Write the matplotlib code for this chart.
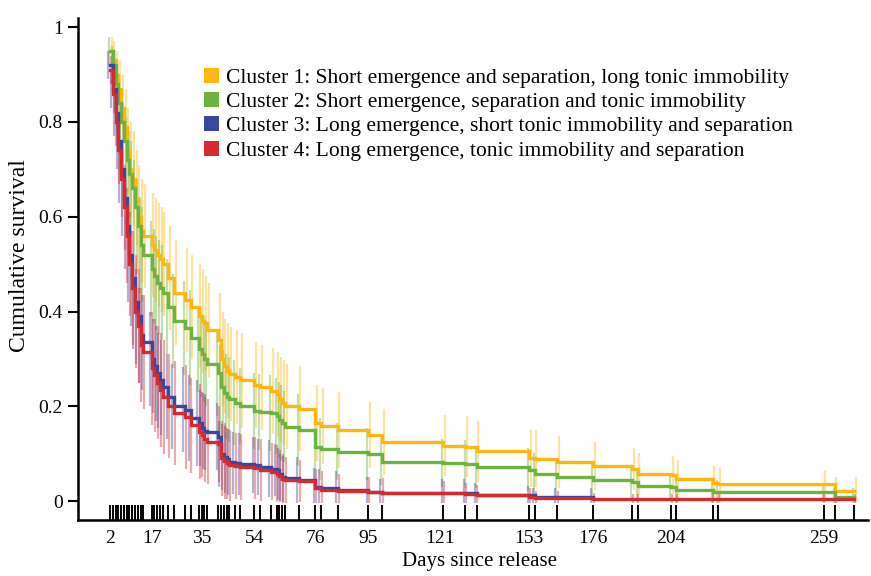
import numpy as np
import matplotlib
matplotlib.use('Agg')
import matplotlib.pyplot as plt
from matplotlib.patches import Patch

# event days (also shown as the rug under the curves)
days = [2, 3, 4, 5, 6, 7, 8, 9, 10, 11, 12, 13, 14,
        17, 18, 19, 20, 21, 23, 25,
        29, 31, 34, 35, 36, 37,
        41, 42, 43, 44, 45, 47, 49,
        54, 56, 60, 62, 63, 64, 65, 70,
        76, 78, 84, 95, 100,
        122, 130, 134, 153, 155, 163, 176,
        190, 192, 204, 206, 219, 221, 259, 263, 270]

tick_days = [2, 17, 35, 54, 76, 95, 121, 153, 176, 204, 259]

labels = ['Cluster 1: Short emergence and separation, long tonic immobility',
          'Cluster 2: Short emergence, separation and tonic immobility',
          'Cluster 3: Long emergence, short tonic immobility and separation',
          'Cluster 4: Long emergence, tonic immobility and separation']
colors = ['#FDB713', '#6DB33F', '#3B479C', '#D42A31']

# cumulative survival, one value per event day
surv1 = [0.95, 0.93, 0.90, 0.87, 0.83, 0.79, 0.74, 0.70, 0.68, 0.64, 0.60, 0.57, 0.56,
         0.54, 0.53, 0.52, 0.51, 0.50, 0.47, 0.44,
         0.425, 0.41, 0.39, 0.38, 0.375, 0.36,
         0.34, 0.30, 0.285, 0.275, 0.268, 0.262, 0.255,
         0.245, 0.24, 0.232, 0.225, 0.215, 0.208, 0.20, 0.195,
         0.165, 0.158, 0.15, 0.14, 0.125,
         0.117, 0.115, 0.105, 0.09, 0.089, 0.083, 0.074,
         0.068, 0.057, 0.055, 0.047, 0.038, 0.036, 0.036, 0.021, 0.021]
surv2 = [0.95, 0.92, 0.88, 0.84, 0.80, 0.76, 0.72, 0.69, 0.66, 0.62, 0.58, 0.54, 0.52,
         0.49, 0.475, 0.46, 0.45, 0.44, 0.41, 0.38,
         0.365, 0.345, 0.32, 0.31, 0.30, 0.29,
         0.27, 0.24, 0.228, 0.22, 0.215, 0.208, 0.20,
         0.19, 0.188, 0.186, 0.18, 0.172, 0.165, 0.157, 0.15,
         0.115, 0.11, 0.104, 0.10, 0.083,
         0.08, 0.078, 0.072, 0.066, 0.057, 0.051, 0.044,
         0.04, 0.032, 0.03, 0.023, 0.019, 0.019, 0.019, 0.008, 0.008]
surv3 = [0.92, 0.87, 0.82, 0.76, 0.70, 0.64, 0.58, 0.52, 0.47, 0.42, 0.39, 0.35, 0.335,
         0.30, 0.285, 0.27, 0.255, 0.24, 0.22, 0.20,
         0.193, 0.175, 0.165, 0.155, 0.148, 0.146,
         0.136, 0.10, 0.093, 0.088, 0.083, 0.08, 0.078,
         0.076, 0.072, 0.068, 0.066, 0.058, 0.05, 0.049, 0.044,
         0.03, 0.027, 0.023, 0.02, 0.017,
         0.017, 0.016, 0.013, 0.012, 0.008, 0.008, 0.008,
         np.nan, np.nan, np.nan, np.nan, np.nan, np.nan, np.nan, np.nan, np.nan]
surv4 = [0.91, 0.86, 0.80, 0.74, 0.68, 0.62, 0.56, 0.50, 0.45, 0.40, 0.37, 0.33, 0.315,
         0.28, 0.265, 0.25, 0.235, 0.22, 0.20, 0.186,
         0.178, 0.16, 0.146, 0.14, 0.13, 0.125,
         0.12, 0.09, 0.085, 0.08, 0.076, 0.074, 0.072,
         0.07, 0.066, 0.062, 0.058, 0.052, 0.046, 0.044, 0.042,
         0.028, 0.024, 0.022, 0.02, 0.018,
         0.017, 0.014, 0.013, 0.008, 0.006, 0.006, 0.005,
         0.004, 0.004, 0.004, 0.004, 0.004, 0.004, 0.004, 0.004, 0.004]

# half length of the confidence bars
ci1 = [0.03, 0.04, 0.05, 0.06, 0.07, 0.08, 0.09, 0.10, 0.10, 0.10, 0.11, 0.11, 0.11,
       0.11, 0.11, 0.11, 0.11, 0.11, 0.11, 0.11,
       0.11, 0.11, 0.11, 0.11, 0.10, 0.10,
       0.10, 0.10, 0.10, 0.10, 0.10, 0.10, 0.10,
       0.09, 0.09, 0.09, 0.09, 0.09, 0.09, 0.09, 0.09,
       0.08, 0.08, 0.08, 0.07, 0.07,
       0.065, 0.065, 0.065, 0.06, 0.06, 0.055, 0.05,
       0.045, 0.045, 0.04, 0.04, 0.035, 0.035, 0.03, 0.03, 0.03]
ci2 = [0.03, 0.04, 0.05, 0.06, 0.07, 0.08, 0.09, 0.09, 0.10, 0.10, 0.10, 0.10, 0.10,
       0.10, 0.10, 0.10, 0.10, 0.10, 0.10, 0.10,
       0.10, 0.10, 0.09, 0.09, 0.09, 0.09,
       0.09, 0.09, 0.09, 0.09, 0.09, 0.09, 0.08,
       0.08, 0.08, 0.08, 0.08, 0.08, 0.08, 0.075, 0.075,
       0.07, 0.065, 0.06, 0.055, 0.05,
       0.05, 0.05, 0.045, 0.045, 0.045, 0.04, 0.04,
       0.035, 0.035, 0.03, 0.03, 0.025, 0.025, 0.02, 0.02, 0.02]
ci3 = [0.03, 0.04, 0.05, 0.06, 0.07, 0.08, 0.09, 0.10, 0.10, 0.10, 0.10, 0.10, 0.10,
       0.10, 0.10, 0.10, 0.10, 0.10, 0.09, 0.09,
       0.09, 0.09, 0.09, 0.08, 0.08, 0.08,
       0.07, 0.07, 0.07, 0.07, 0.07, 0.065, 0.065,
       0.06, 0.06, 0.06, 0.055, 0.055, 0.05, 0.05, 0.05,
       0.04, 0.04, 0.04, 0.03, 0.03,
       0.03, 0.03, 0.025, 0.02, 0.02, 0.02, 0.02,
       np.nan, np.nan, np.nan, np.nan, np.nan, np.nan, np.nan, np.nan, np.nan]
ci4 = [0.03, 0.04, 0.05, 0.07, 0.08, 0.09, 0.10, 0.11, 0.12, 0.12, 0.12, 0.12, 0.12,
       0.12, 0.12, 0.12, 0.12, 0.12, 0.11, 0.11,
       0.11, 0.10, 0.10, 0.09, 0.09, 0.09,
       0.08, 0.08, 0.08, 0.075, 0.075, 0.07, 0.07,
       0.065, 0.065, 0.06, 0.06, 0.055, 0.05, 0.05, 0.045,
       0.04, 0.04, 0.035, 0.03, 0.03,
       0.025, 0.025, 0.02, 0.02, 0.015, 0.015, 0.012,
       0.01, 0.01, 0.01, 0.01, 0.01, 0.01, 0.01, 0.01, 0.01]

survs = [surv1, surv2, surv3, surv4]
cis = [ci1, ci2, ci3, ci4]
offsets = [0.6, -0.3, -0.6, 0.3]

plt.rcParams['font.family'] = ['Liberation Serif', 'DejaVu Serif']

fig = plt.figure(figsize=(8.71, 5.76), dpi=100)
ax = fig.add_axes([0.0896, 0.0972, 0.907, 0.872])

d = np.array(days, dtype=float)
for s, c, col, off in zip(survs, cis, colors, offsets):
    s = np.array(s)
    c = np.array(c)
    ok = ~np.isnan(s)
    lo = np.clip(s[ok] - c[ok], -0.004, None)
    ax.vlines(d[ok] + off, lo, s[ok] + c[ok], color=col, alpha=0.4, lw=1.6, zorder=2)

for s, col in zip(survs, colors):
    s = np.array(s)
    ok = ~np.isnan(s)
    ax.step(d[ok], s[ok], where='post', color=col, lw=2.4, zorder=3,
            solid_joinstyle='miter')

# rug of event days
ax.vlines(d, -0.04, -0.009, color='black', lw=1.4, zorder=4)

ax.set_xlim(-9.5, 275)
ax.set_ylim(-0.04, 1.02)
ax.set_yticks([0, 0.2, 0.4, 0.6, 0.8, 1])
ax.set_yticklabels(['0', '0.2', '0.4', '0.6', '0.8', '1'])
ax.set_xticks(tick_days)
ax.set_xticklabels([str(t) for t in tick_days])
ax.tick_params(axis='y', length=7, width=1.5, labelsize=14, pad=4)
ax.tick_params(axis='x', length=0, labelsize=14, pad=7)
for side in ['top', 'right']:
    ax.spines[side].set_visible(False)
for side in ['left', 'bottom']:
    ax.spines[side].set_linewidth(1.8)

ax.set_xlabel('Days since release', fontsize=15)
ax.set_ylabel('Cumulative survival', fontsize=17)
ax.xaxis.set_label_coords(0.508, -0.064)
ax.yaxis.set_label_coords(-0.061, 0.526)

handles = [Patch(facecolor=col, edgecolor='none') for col in colors]
ax.legend(handles, labels, loc='upper left', bbox_to_anchor=(0.148, 0.918),
          frameon=False, fontsize=15.5, handlelength=0.7, handleheight=0.7,
          handletextpad=0.33, labelspacing=0.2, borderaxespad=0)

fig.savefig('out.png', dpi=100)
